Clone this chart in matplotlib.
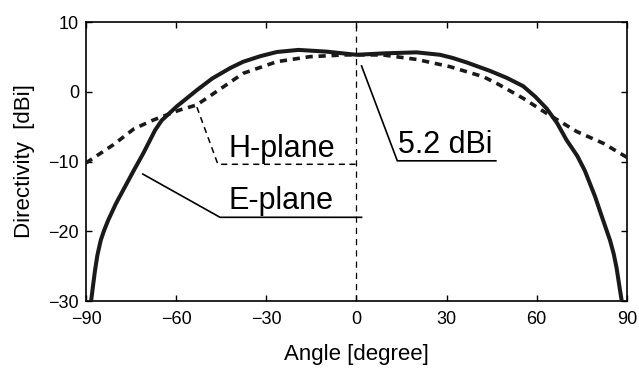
import matplotlib
matplotlib.use("Agg")
import matplotlib.pyplot as plt

plt.rcParams['font.family'] = ['Liberation Sans', 'DejaVu Sans']

# E-plane (solid)
e_angle = [-88.3, -87.6, -87.0, -86.2, -85.1, -84.0, -82.6, -80.0, -77.0, -74.0,
           -70.9, -67.0, -64.8, -59.8, -53.2, -48.0, -42.0, -37.7, -32.0,
           -26.5, -19.3, -9.9, 0.0, 8.9, 20.0, 27.8, 32.0, 36.7, 44.4,
           50.0, 55.5, 59.5, 63.3, 66.8, 69.9, 73.5, 76.0, 79.4,
           82.0, 84.4, 85.6, 86.6, 87.7, 88.3]
e_value = [-30.0, -27.6, -25.6, -23.4, -21.3, -19.9, -18.4, -16.0, -13.6, -11.2,
           -8.8, -5.5, -4.1, -2.1, 0.2, 1.9, 3.4, 4.3, 5.1,
           5.7, 6.0, 5.75, 5.3, 5.5, 5.65, 5.3, 4.85, 4.2, 3.0,
           2.0, 0.8, -0.7, -2.4, -4.5, -6.9, -9.2, -11.3, -15.0,
           -18.3, -21.3, -23.2, -25.3, -28.4, -30.0]

# H-plane (dotted)
h_angle = [-90.0, -80.9, -74.0, -67.6, -58.7, -53.2, -46.5, -37.7, -26.5, -15.5,
           -4.4, 0.0, 8.9, 20.0, 31.1, 42.2, 46.7, 55.5, 63.3, 73.3, 82.2, 90.0]
h_value = [-10.2, -7.6, -5.3, -4.05, -2.6, -1.9, 0.05, 2.64, 4.31, 5.03,
           5.27, 5.3, 5.27, 4.64, 3.6, 2.16, 1.2, -0.94, -3.1, -5.7, -7.4, -9.4]

x_ticks = [-90, -60, -30, 0, 30, 60, 90]
y_ticks = [-30, -20, -10, 0, 10]

fig = plt.figure(figsize=(6.39, 3.73), dpi=100)
ax = fig.add_axes([0.1346, 0.193, 0.8464, 0.748])

ax.plot(e_angle, e_value, color='#1a1a1a', lw=2.9, solid_capstyle='butt',
        solid_joinstyle='round', zorder=3)
ax.plot(h_angle, h_value, color='#1a1a1a', lw=2.6, linestyle=(0, (2.0, 1.6)), zorder=3)

ax.axvline(0, color='black', lw=0.9, linestyle=(0, (5, 4)), zorder=2)

# leaders
ax.plot([-53.1, -46.1, 0.0], [-2.2, -10.4, -10.4], color='black', lw=1.1,
        linestyle=(0, (4, 3)), zorder=2)
ax.plot([-71.1, -45.4, 1.7], [-11.8, -18.0, -18.0], color='black', lw=1.2, zorder=2)
ax.plot([1.7, 13.6, 46.4], [3.7, -9.9, -9.9], color='black', lw=1.2, zorder=2)

ax.text(-42.7, -9.3, 'H-plane', fontsize=22, ha='left', va='baseline')
ax.text(-42.7, -16.8, 'E-plane', fontsize=22, ha='left', va='baseline')
ax.text(13.8, -8.8, '5.2 dBi', fontsize=22, ha='left', va='baseline')

ax.set_xlim(-90, 90)
ax.set_ylim(-30, 10)
ax.set_xticks(x_ticks)
ax.set_yticks(y_ticks)
ax.set_xticklabels(['\u2212' + str(-t) if t < 0 else str(t) for t in x_ticks])
ax.set_yticklabels(['\u2212' + str(-t) if t < 0 else str(t) for t in y_ticks])
ax.tick_params(direction='in', top=True, right=True, length=4, width=1.0,
               labelsize=13)
ax.tick_params(axis='x', pad=7)
ax.tick_params(axis='y', pad=5)
for s in ax.spines.values():
    s.set_linewidth(1.2)

ax.set_xlabel('Angle [degree]', fontsize=16, labelpad=12)
ax.set_ylabel('Directivity  [dBi]', fontsize=16, labelpad=10)

fig.savefig('out.png', dpi=100)
